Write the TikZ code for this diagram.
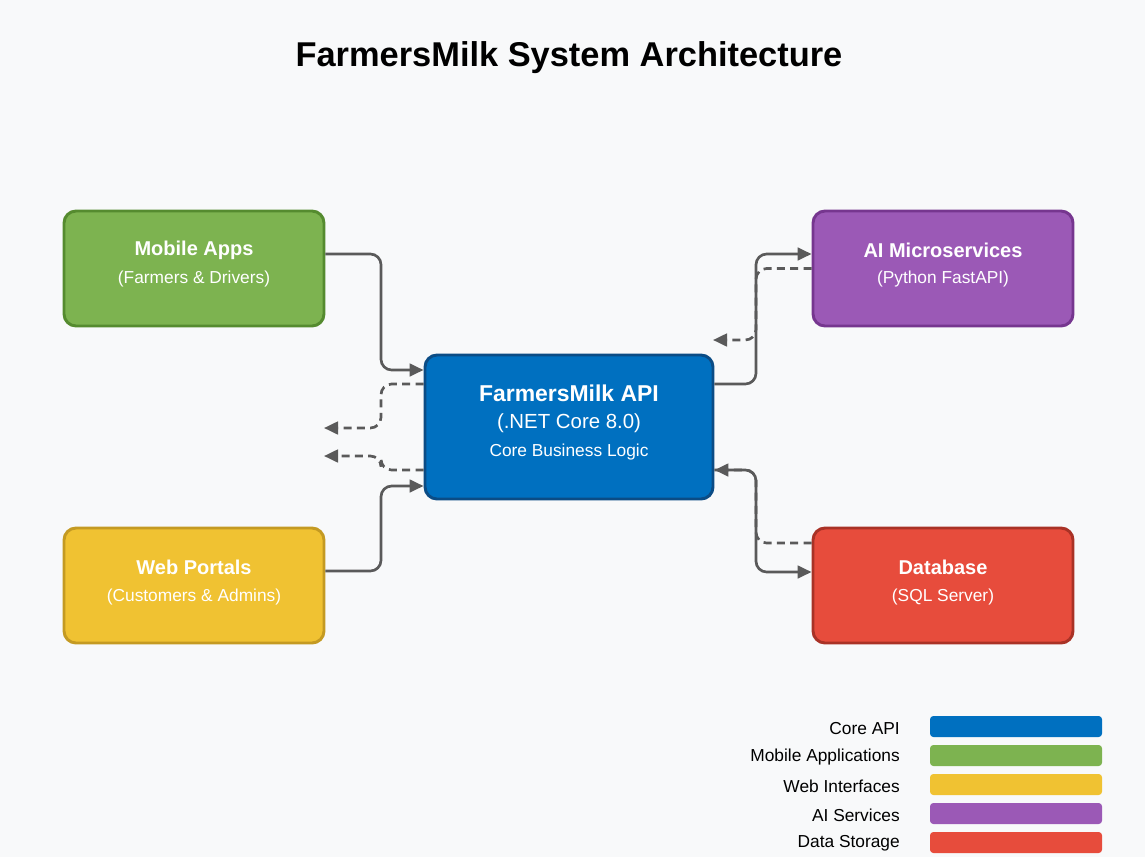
\documentclass[tikz,border=0pt]{standalone}
\usepackage{fontspec}
\setmainfont{Liberation Sans}
\usetikzlibrary{arrows.meta}
\definecolor{bgc}{HTML}{F8F9FA}
\definecolor{apifill}{HTML}{0070C0}\definecolor{apiline}{HTML}{0B4C85}
\definecolor{mobfill}{HTML}{7DB350}\definecolor{mobline}{HTML}{558B2F}
\definecolor{webfill}{HTML}{F0C232}\definecolor{webline}{HTML}{C49A22}
\definecolor{aifill}{HTML}{9B59B6}\definecolor{ailine}{HTML}{76368F}
\definecolor{dbfill}{HTML}{E74C3C}\definecolor{dbline}{HTML}{A93226}
\definecolor{conncol}{HTML}{5A5A5A}
\begin{document}
\begin{tikzpicture}[x=0.75pt,y=-0.75pt,
  box/.style={draw, line width=2.2pt, rounded corners=9pt, minimum width=195pt, minimum height=86.25pt, inner sep=0pt},
  bigbox/.style={box, minimum width=216pt, minimum height=108pt},
  head/.style={text=white, font=\bfseries\fontsize{15}{18}\selectfont, inner sep=0pt},
  sub/.style={text=white, font=\fontsize{13}{15}\selectfont, inner sep=0pt},
  conn/.style={draw=conncol, line width=2pt, rounded corners=8pt},
  dconn/.style={conn, dash pattern=on 6pt off 4pt},
  tip/.style={-{Triangle[length=10.5pt,width=9.5pt]}},
  bar/.style={rounded corners=2.5pt, minimum width=129pt, minimum height=15.75pt, inner sep=0pt},
  leg/.style={anchor=east, font=\fontsize{13}{15}\selectfont, inner sep=0pt},
]
\path[fill=bgc] (0,0) rectangle (1145,857);
\useasboundingbox (0,0) rectangle (1145,857);

\node[font=\bfseries\fontsize{25.8}{30}\selectfont, inner sep=0pt] (title) at (569,58) {FarmersMilk System Architecture};

% boxes
\node[box, fill=mobfill, draw=mobline] (mob) at (194,268.5) {};
\node[box, fill=webfill, draw=webline] (web) at (194,585.5) {};
\node[bigbox, fill=apifill, draw=apiline] (api) at (569,427) {};
\node[box, fill=aifill, draw=ailine] (ai) at (943,268.5) {};
\node[box, fill=dbfill, draw=dbline] (db) at (943,585.5) {};

% texts
\node[head] (mobh) at (194,250) {Mobile Apps};
\node[sub] (mobs) at (194,279) {(Farmers \& Drivers)};
\node[head] (webh) at (194,567) {Web Portals};
\node[sub] (webs) at (194,597) {(Customers \& Admins)};
\node[head] (aih) at (943,250) {AI Microservices};
\node[sub] (ais) at (943,279) {(Python FastAPI)};
\node[head] (dbh) at (943,567) {Database};
\node[sub] (dbs) at (943,597) {(SQL Server)};
\node[text=white, font=\bfseries\fontsize{17.2}{20}\selectfont, inner sep=0pt] (apih) at (569,393) {FarmersMilk API};
\node[text=white, font=\fontsize{15.3}{18}\selectfont, inner sep=0pt] (apiv) at (569,423) {(.NET Core 8.0)};
\node[sub] (apis) at (569,452) {Core Business Logic};

% free ends
\coordinate (l1) at (324,428);
\coordinate (l2) at (324,456);
\coordinate (r1) at (713,340);

% connectors
\draw[conn, tip] ([yshift=10.875pt]mob.east) -| (381,370) -- ([yshift=42.75pt]api.west);
\draw[conn, tip] ([yshift=10.875pt]web.east) -| (381,486) -- ([yshift=-44.25pt]api.west);
\draw[dconn, tip] ([yshift=32.25pt]api.west) -| (381,428) -- (l1);
\draw[dconn, tip] ([yshift=-32.25pt]api.west) -| (381,456) -- (l2);
\draw[conn, tip] ([yshift=32.25pt]api.east) -| (756,254) -- ([yshift=10.875pt]ai.west);
\draw[dconn, tip] (ai.west) -| (756,340) -- (r1);
\draw[conn, tip] ([yshift=-32.25pt]api.east) -| (756,572) -- ([yshift=10.125pt]db.west);
\draw[dconn, tip] ([yshift=31.875pt]db.west) -| (756,470) -- ([yshift=-32.25pt]api.east);

% legend
\node[bar, fill=apifill] (b1) at (1016,726.5) {};
\node[bar, fill=mobfill] (b2) at (1016,755.5) {};
\node[bar, fill=webfill] (b3) at (1016,784.5) {};
\node[bar, fill=aifill] (b4) at (1016,813.5) {};
\node[bar, fill=dbfill] (b5) at (1016,842.5) {};
\node[leg] (t1) at (900,728.5) {Core API};
\node[leg] (t2) at (900,757.5) {Mobile Applications};
\node[leg] (t3) at (900,786.5) {Web Interfaces};
\node[leg] (t4) at (900,815.5) {AI Services};
\node[leg] (t5) at (900,843.5) {Data Storage};
\end{tikzpicture}
\end{document}
